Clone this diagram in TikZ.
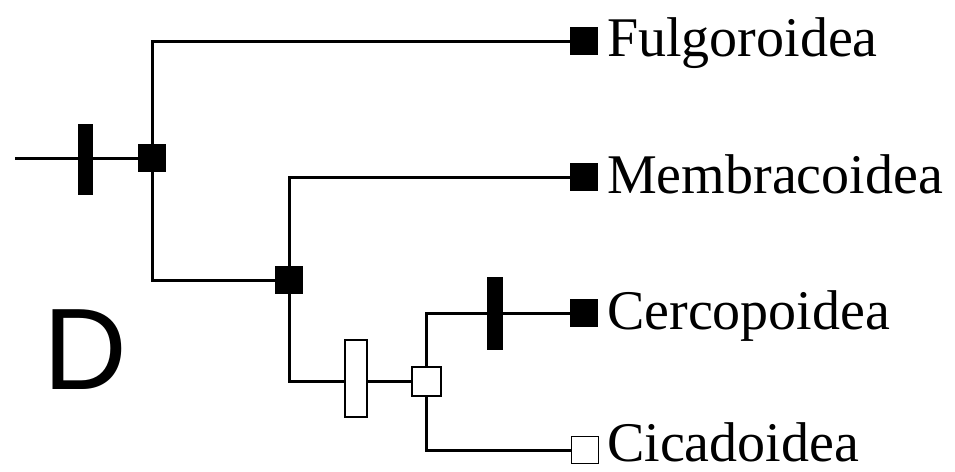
\documentclass[tikz,border=0pt]{standalone}
\usepackage{fontspec}
\setmainfont{Liberation Serif}
\newfontfamily\dsans{Liberation Sans}
\usetikzlibrary{backgrounds}
\tikzset{
  branch/.style={line width=3pt, black},
  fullsq/.style={draw=black, fill=black, line width=1pt, minimum width=27pt, minimum height=27pt, inner sep=0pt},
  opensq/.style={draw=black, fill=white, line width=2pt, minimum width=27pt, minimum height=27pt, inner sep=0pt},
  fullbar/.style={draw=black, fill=black, line width=1pt, minimum width=14pt, minimum height=70pt, inner sep=0pt},
  openbar/.style={draw=black, fill=white, line width=2pt, minimum width=22pt, minimum height=77pt, inner sep=0pt},
  taxon/.style={anchor=base west, inner sep=0pt, font=\fontsize{56}{56}\selectfont}
}
\begin{document}
\begin{tikzpicture}[x=1pt, y=-1pt]
\useasboundingbox (0,0) rectangle (955,471);
\coordinate (root) at (15,158);
\node[fullbar] (bar1) at (85,159) {};
\node[fullsq] (n1) at (152,158) {};
\node[fullsq] (f) at (584,41) {};
\node[fullsq] (n2) at (289,280) {};
\node[fullsq] (m) at (584,177) {};
\node[openbar] (obar) at (356,378) {};
\node[opensq, minimum width=29pt, minimum height=29pt] (n3) at (426,381) {};
\node[fullbar, minimum width=15pt, minimum height=72pt] (cbar) at (495,313) {};
\node[fullsq] (c) at (584,313) {};
\node[opensq, line width=1.5pt] (cic) at (585,450) {};
\begin{scope}[on background layer]
\draw[branch] (root) -- (n1.center);
\draw[branch] (n1.center) |- (f.center);
\draw[branch] (n1.center) |- (n2.center);
\draw[branch] (n2.center) |- (m.center);
\draw[branch] (n2.center) |- (n3.center);
\draw[branch] (n3.center) |- (c.center);
\draw[branch] (n3.center) |- (cic.center);
\end{scope}
\node[taxon] (tf) at (607,56) {Fulgoroidea};
\node[taxon] (tm) at (607,193) {Membracoidea};
\node[taxon] (tc) at (607,329) {Cercopoidea};
\node[taxon] (tci) at (607,461) {Cicadoidea};
\node[anchor=base west, inner sep=0pt, font=\dsans\fontsize{116}{116}\selectfont] (lab) at (43,389) {D};
\end{tikzpicture}
\end{document}
